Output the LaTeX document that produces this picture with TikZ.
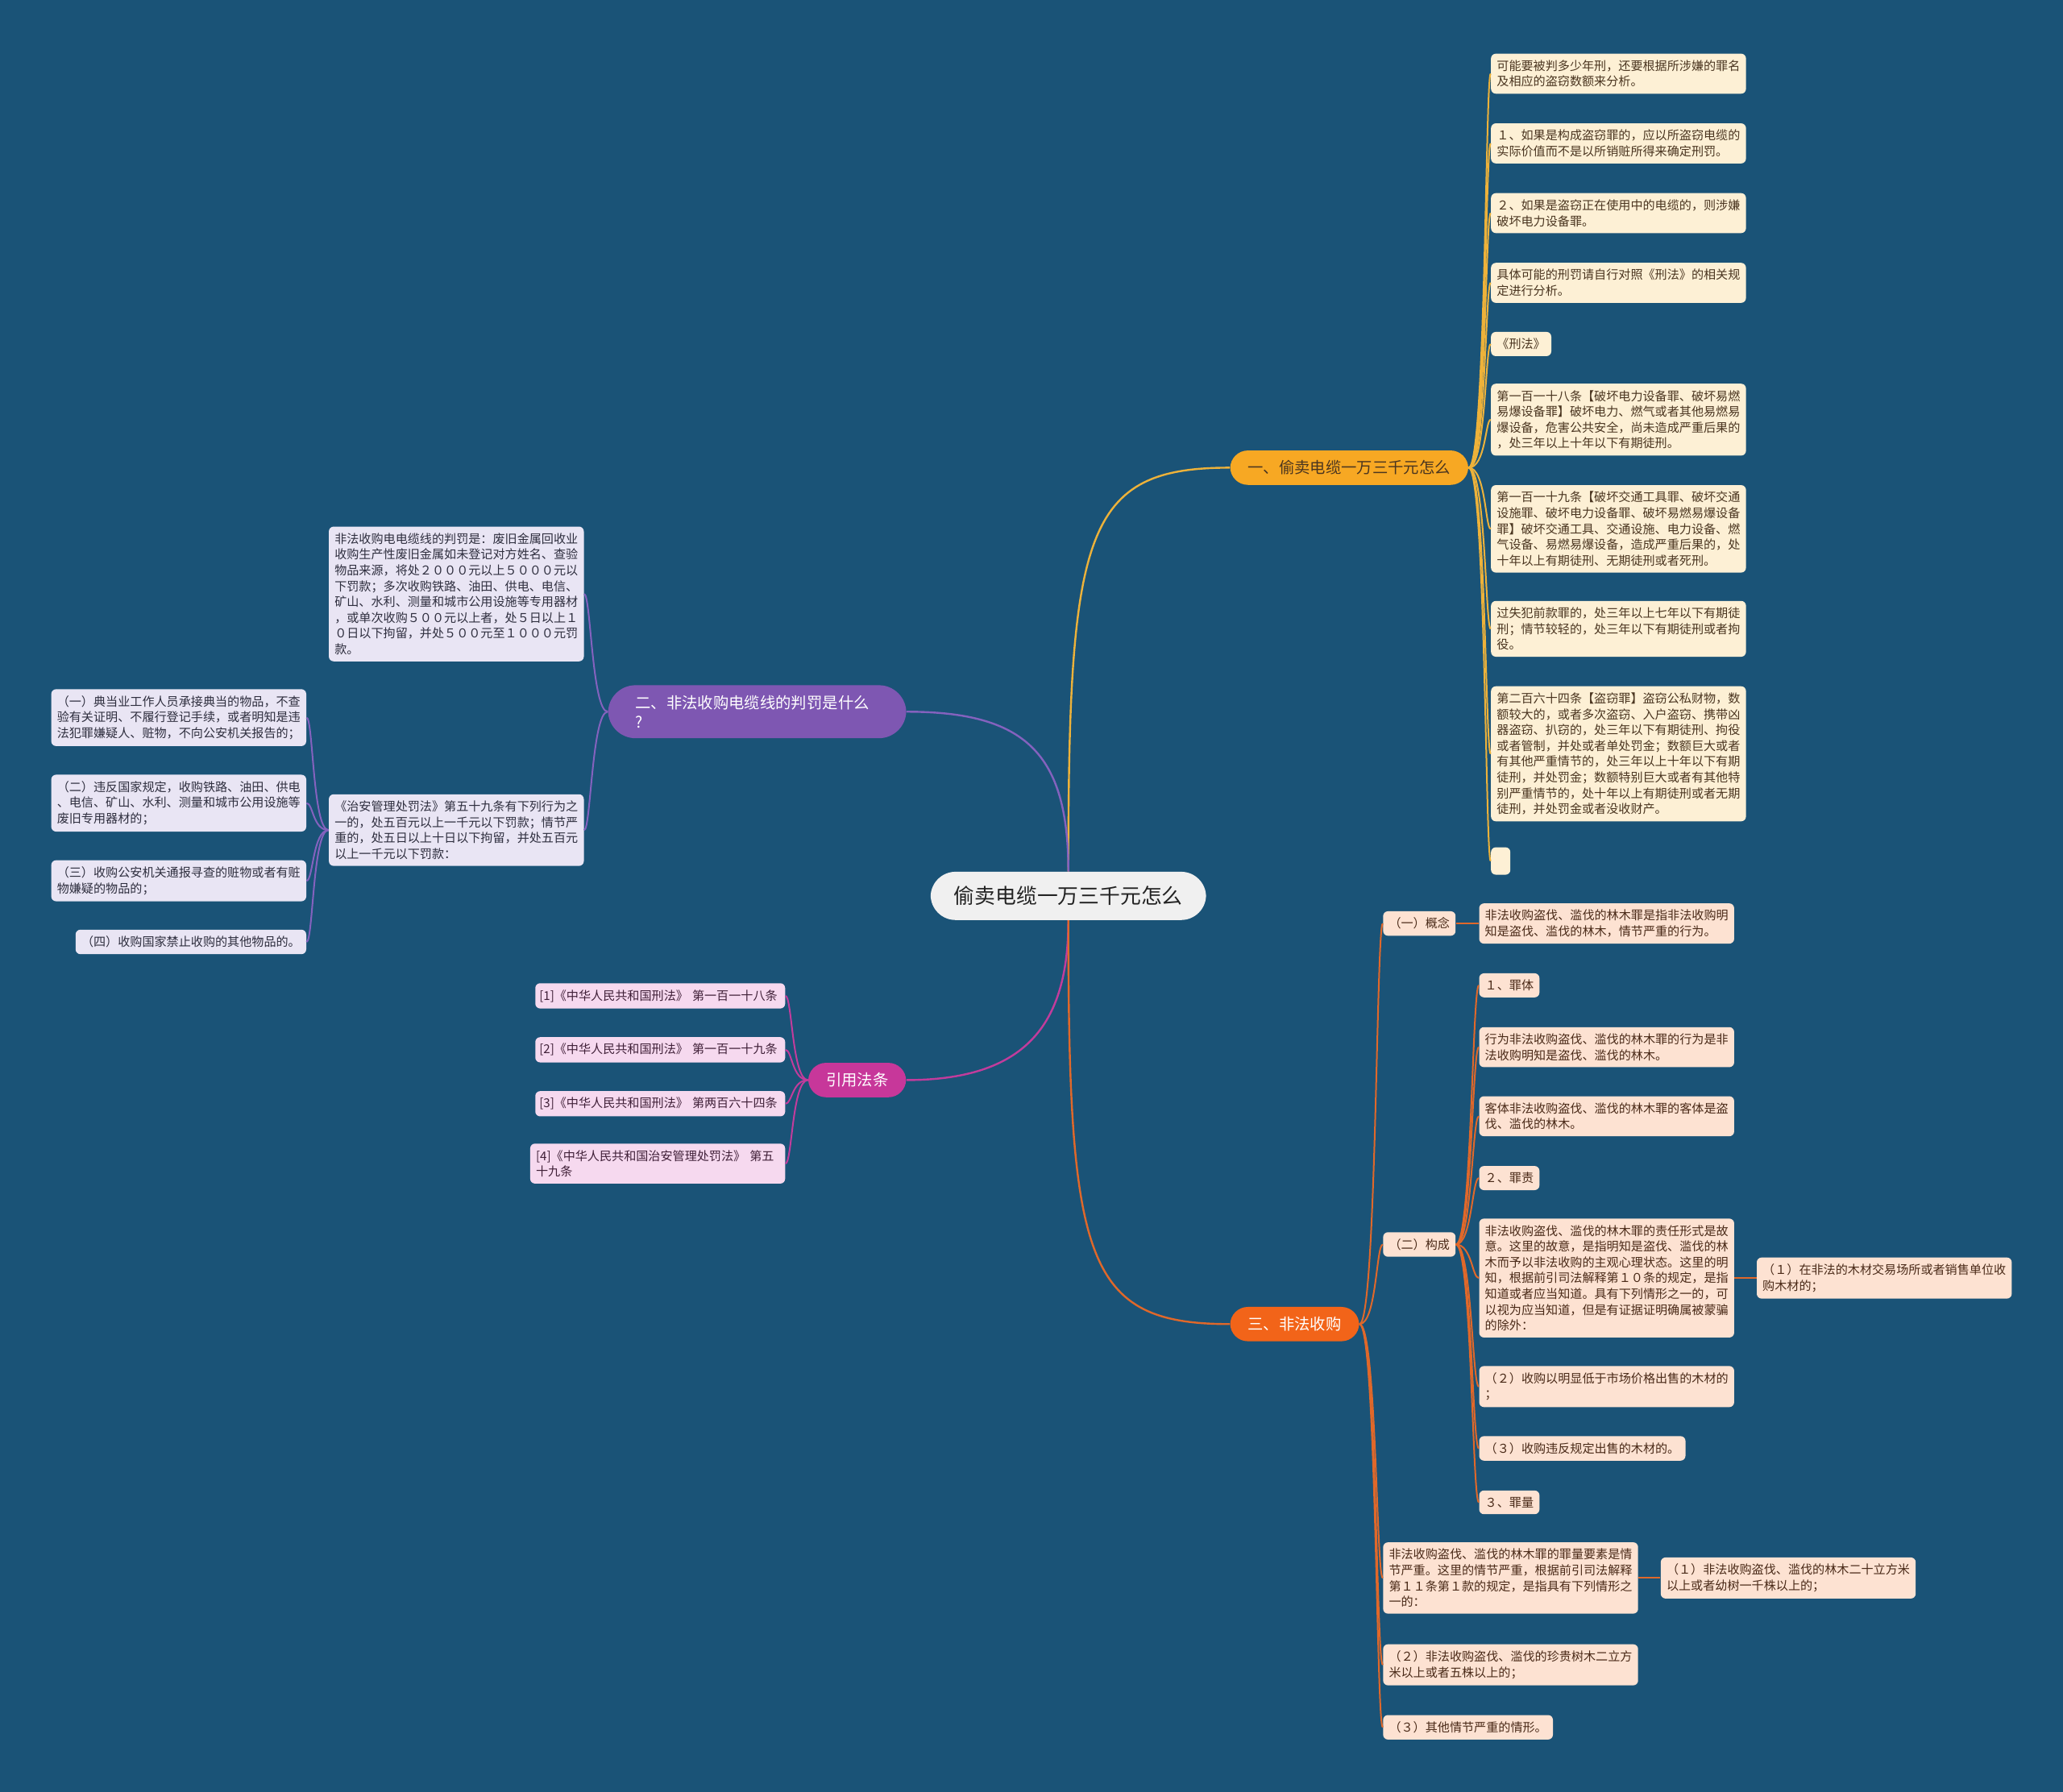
\documentclass[tikz,border=0pt]{standalone}
\usepackage{fontspec}
\setmainfont{Noto Sans CJK SC}
\usepackage{tikz}
\definecolor{bgblue}{HTML}{1A5377}
\definecolor{rootfill}{HTML}{F0F0F0}
\definecolor{rootink}{HTML}{222222}
\definecolor{yfill}{HTML}{F7A823}
\definecolor{yline}{HTML}{EDB23A}
\definecolor{yleaffill}{HTML}{FDF0D5}
\definecolor{yink}{HTML}{4A3520}
\definecolor{pfill}{HTML}{7E57B2}
\definecolor{pline}{HTML}{8462BE}
\definecolor{pleaffill}{HTML}{E9E5F4}
\definecolor{pink}{HTML}{2E2E3E}
\definecolor{mfill}{HTML}{C7379A}
\definecolor{mline}{HTML}{C23C9C}
\definecolor{mleaffill}{HTML}{F6D9EF}
\definecolor{mink}{HTML}{402038}
\definecolor{ofill}{HTML}{F26419}
\definecolor{oline}{HTML}{E0682A}
\definecolor{oleaffill}{HTML}{FDE2D2}
\definecolor{oink}{HTML}{4A2A18}

\tikzset{
  rootnode/.style={fill=rootfill, text=rootink, rounded corners=15.5pt,
    inner xsep=14.5pt, inner ysep=9pt, font=\fontsize{12.9}{15}\selectfont},
  topic/.style={rounded corners=11pt, inner xsep=11pt, inner ysep=6.2pt,
    font=\fontsize{9.67}{12.2}\selectfont},
  leaf/.style={rounded corners=3pt, inner xsep=3.6pt, inner ysep=4pt,
    align=left, font=\fontsize{7.55}{9.8}\selectfont},
  para/.style={leaf, text width=151pt},
  yleaf/.style={fill=yleaffill, text=yink},
  pleaf/.style={fill=pleaffill, text=pink},
  mleaf/.style={fill=mleaffill, text=mink},
  oleaf/.style={fill=oleaffill, text=oink},
  ylink/.style={draw=yline, line width=1pt},
  plink/.style={draw=pline, line width=1pt},
  mlink/.style={draw=mline, line width=1pt},
  olink/.style={draw=oline, line width=1pt}
}

\begin{document}
\begin{tikzpicture}[x=0.8163pt,y=-0.8163pt]
  \fill[bgblue] (0,0) rectangle (1568,1362);
  \useasboundingbox (0,0) rectangle (1568,1362);

  \node[rootnode] (root) at (812,681) {偷卖电缆一万三千元怎么};

  % branch one
  \node[topic, fill=yfill, text=yink] (b1) at (1025.5,355.5) {一、偷卖电缆一万三千元怎么};
  \node[para, yleaf, anchor=west] (a1) at (1133,56) {可能要被判多少年刑，还要根据所涉嫌的罪名\\及相应的盗窃数额来分析。};
  \node[para, yleaf, anchor=west] (a2) at (1133,109) {１、如果是构成盗窃罪的，应以所盗窃电缆的\\实际价值而不是以所销赃所得来确定刑罚。};
  \node[para, yleaf, anchor=west] (a3) at (1133,162) {２、如果是盗窃正在使用中的电缆的，则涉嫌\\破坏电力设备罪。};
  \node[para, yleaf, anchor=west] (a4) at (1133,215) {具体可能的刑罚请自行对照《刑法》的相关规\\定进行分析。};
  \node[leaf, yleaf, anchor=west] (a5) at (1133,261.5) {《刑法》};
  \node[para, yleaf, anchor=west] (a6) at (1133,319) {第一百一十八条【破坏电力设备罪、破坏易燃\\易爆设备罪】破坏电力、燃气或者其他易燃易\\爆设备，危害公共安全，尚未造成严重后果的\\，处三年以上十年以下有期徒刑。};
  \node[para, yleaf, anchor=west] (a7) at (1133,402) {第一百一十九条【破坏交通工具罪、破坏交通\\设施罪、破坏电力设备罪、破坏易燃易爆设备\\罪】破坏交通工具、交通设施、电力设备、燃\\气设备、易燃易爆设备，造成严重后果的，处\\十年以上有期徒刑、无期徒刑或者死刑。};
  \node[para, yleaf, anchor=west] (a8) at (1133,478) {过失犯前款罪的，处三年以上七年以下有期徒\\刑；情节较轻的，处三年以下有期徒刑或者拘\\役。};
  \node[para, yleaf, anchor=west] (a9) at (1133,573) {第二百六十四条【盗窃罪】盗窃公私财物，数\\额较大的，或者多次盗窃、入户盗窃、携带凶\\器盗窃、扒窃的，处三年以下有期徒刑、拘役\\或者管制，并处或者单处罚金；数额巨大或者\\有其他严重情节的，处三年以上十年以下有期\\徒刑，并处罚金；数额特别巨大或者有其他特\\别严重情节的，处十年以上有期徒刑或者无期\\徒刑，并处罚金或者没收财产。};
  \node[leaf, yleaf, anchor=west, minimum width=12pt, minimum height=17pt] (a10) at (1133,654.5) {};

  % branch two
  \node[topic, fill=pfill, text=white, rounded corners=17pt, align=left, text width=151pt, inner xsep=17pt] (b2) at (575.5,541) {二、非法收购电缆线的判罚是什么\\?};
  \node[para, pleaf, anchor=east] (pa) at (444,451.5) {非法收购电电缆线的判罚是：废旧金属回收业\\收购生产性废旧金属如未登记对方姓名、查验\\物品来源，将处２０００元以上５０００元以\\下罚款；多次收购铁路、油田、供电、电信、\\矿山、水利、测量和城市公用设施等专用器材\\，或单次收购５００元以上者，处５日以上１\\０日以下拘留，并处５００元至１０００元罚\\款。};
  \node[para, pleaf, anchor=east] (pb) at (444,631) {《治安管理处罚法》第五十九条有下列行为之\\一的，处五百元以上一千元以下罚款；情节严\\重的，处五日以上十日以下拘留，并处五百元\\以上一千元以下罚款：};
  \node[para, pleaf, anchor=east] (c1) at (233,545.5) {（一）典当业工作人员承接典当的物品，不查\\验有关证明、不履行登记手续，或者明知是违\\法犯罪嫌疑人、赃物，不向公安机关报告的；};
  \node[para, pleaf, anchor=east] (c2) at (233,610.5) {（二）违反国家规定，收购铁路、油田、供电\\、电信、矿山、水利、测量和城市公用设施等\\废旧专用器材的；};
  \node[para, pleaf, anchor=east] (c3) at (233,669.5) {（三）收购公安机关通报寻查的赃物或者有赃\\物嫌疑的物品的；};
  \node[leaf, pleaf, anchor=east] (c4) at (233,716) {（四）收购国家禁止收购的其他物品的。};

  % branch three
  \node[topic, fill=mfill, text=white] (b3) at (651.5,821) {引用法条};
  \node[leaf, mleaf, anchor=east, text width=150pt, inner xsep=2.5pt] (r1) at (597,757) {[1]《中华人民共和国刑法》 第一百一十八条};
  \node[leaf, mleaf, anchor=east, text width=150pt, inner xsep=2.5pt] (r2) at (597,798) {[2]《中华人民共和国刑法》 第一百一十九条};
  \node[leaf, mleaf, anchor=east, text width=150pt, inner xsep=2.5pt] (r3) at (597,839) {[3]《中华人民共和国刑法》 第两百六十四条};
  \node[para, mleaf, anchor=east] (r4) at (597,884.5) {[4]《中华人民共和国治安管理处罚法》 第五\\十九条};

  % branch four
  \node[topic, fill=ofill, text=white] (b4) at (984,1006.5) {三、非法收购};
  \node[leaf, oleaf, anchor=west] (g1) at (1051,702) {（一）概念};
  \node[para, oleaf, anchor=west] (g1k) at (1124,702) {非法收购盗伐、滥伐的林木罪是指非法收购明\\知是盗伐、滥伐的林木，情节严重的行为。};
  \node[leaf, oleaf, anchor=west] (g2) at (1051,946) {（二）构成};
  \node[leaf, oleaf, anchor=west] (h1) at (1124,749) {１、罪体};
  \node[para, oleaf, anchor=west] (h2) at (1124,796) {行为非法收购盗伐、滥伐的林木罪的行为是非\\法收购明知是盗伐、滥伐的林木。};
  \node[para, oleaf, anchor=west] (h3) at (1124,848.5) {客体非法收购盗伐、滥伐的林木罪的客体是盗\\伐、滥伐的林木。};
  \node[leaf, oleaf, anchor=west] (h4) at (1124,895.5) {２、罪责};
  \node[para, oleaf, anchor=west] (h5) at (1124,971.5) {非法收购盗伐、滥伐的林木罪的责任形式是故\\意。这里的故意，是指明知是盗伐、滥伐的林\\木而予以非法收购的主观心理状态。这里的明\\知，根据前引司法解释第１０条的规定，是指\\知道或者应当知道。具有下列情形之一的，可\\以视为应当知道，但是有证据证明确属被蒙骗\\的除外：};
  \node[para, oleaf, anchor=west] (h5k) at (1335,971.5) {（１）在非法的木材交易场所或者销售单位收\\购木材的；};
  \node[para, oleaf, anchor=west] (h6) at (1124,1054) {（２）收购以明显低于市场价格出售的木材的\\；};
  \node[leaf, oleaf, anchor=west] (h7) at (1124,1101) {（３）收购违反规定出售的木材的。};
  \node[leaf, oleaf, anchor=west] (h8) at (1124,1142) {３、罪量};
  \node[para, oleaf, anchor=west] (g3) at (1051,1199.5) {非法收购盗伐、滥伐的林木罪的罪量要素是情\\节严重。这里的情节严重，根据前引司法解释\\第１１条第１款的规定，是指具有下列情形之\\一的：};
  \node[para, oleaf, anchor=west] (g3k) at (1262,1199.5) {（１）非法收购盗伐、滥伐的林木二十立方米\\以上或者幼树一千株以上的；};
  \node[para, oleaf, anchor=west] (g4) at (1051,1265.5) {（２）非法收购盗伐、滥伐的珍贵树木二立方\\米以上或者五株以上的；};
  \node[leaf, oleaf, anchor=west] (g5) at (1051,1313) {（３）其他情节严重的情形。};

  % connectors
  \draw[ylink, line width=1.2pt] (root.north) .. controls +(0,-260) and +(-110,0) .. (b1.west);
  \draw[plink, line width=1.2pt] (root.north) .. controls +(0,-90) and +(90,0) .. (b2.east);
  \draw[mlink, line width=1.2pt] (root.south) .. controls +(0,80) and +(90,0) .. (b3.east);
  \draw[olink, line width=1.2pt] (root.south) .. controls +(0,260) and +(-110,0) .. (b4.west);

  \foreach \k in {a1,a2,a3,a4,a5,a6,a7,a8,a9,a10}
    \draw[ylink] (b1.east) .. controls +(13,0) and +(-4,0) .. (\k.west);
  \foreach \k in {pa,pb}
    \draw[plink] (b2.west) .. controls +(-12,0) and +(5,0) .. (\k.east);
  \foreach \k in {c1,c2,c3,c4}
    \draw[plink] (pb.west) .. controls +(-12,0) and +(5,0) .. (\k.east);
  \foreach \k in {r1,r2,r3,r4}
    \draw[mlink] (b3.west) .. controls +(-12,0) and +(5,0) .. (\k.east);
  \foreach \k in {g1,g2,g3,g4,g5}
    \draw[olink] (b4.east) .. controls +(13,0) and +(-5,0) .. (\k.west);
  \foreach \k in {h1,h2,h3,h4,h5,h6,h7,h8}
    \draw[olink] (g2.east) .. controls +(12,0) and +(-5,0) .. (\k.west);
  \draw[olink] (g1.east) -- (g1k.west);
  \draw[olink] (h5.east) -- (h5k.west);
  \draw[olink] (g3.east) -- (g3k.west);
\end{tikzpicture}
\end{document}
